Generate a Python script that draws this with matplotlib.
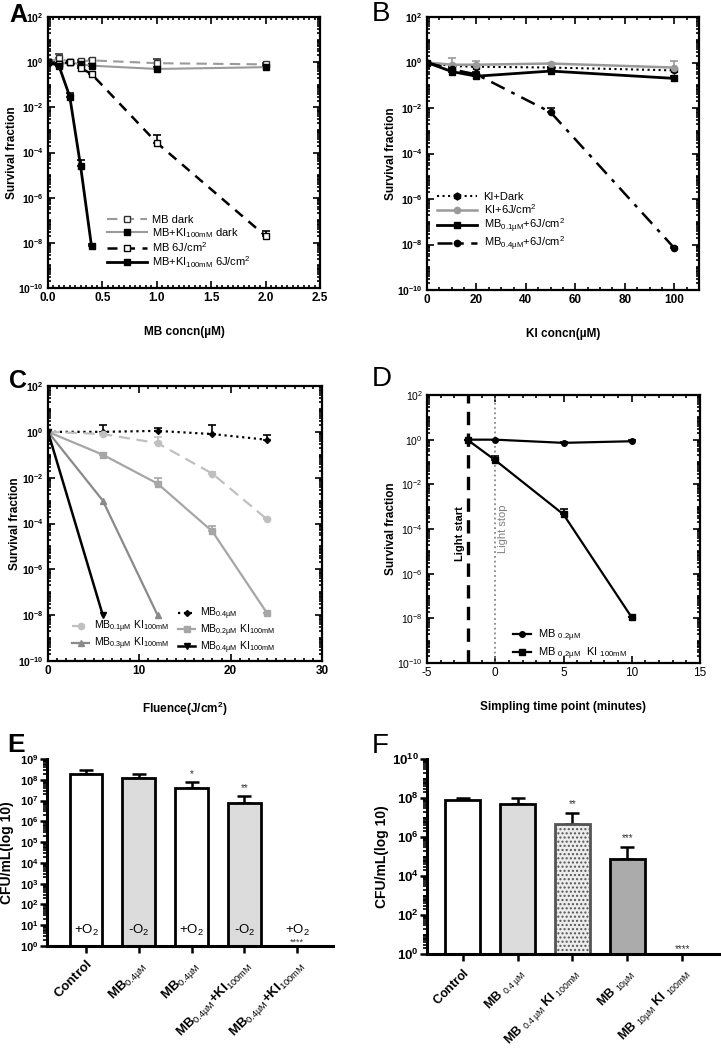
import numpy as np
import matplotlib
matplotlib.use("Agg")
import matplotlib.pyplot as plt
from matplotlib.ticker import LogLocator, MultipleLocator, NullFormatter
from matplotlib.lines import Line2D

plt.rcParams['font.family'] = ['Liberation Sans', 'DejaVu Sans']
plt.rcParams['mathtext.fontset'] = 'custom'
plt.rcParams['mathtext.rm'] = 'Liberation Sans'
plt.rcParams['mathtext.bf'] = 'Liberation Sans:bold'
plt.rcParams['mathtext.it'] = 'Liberation Sans:italic'
plt.rcParams['hatch.color'] = '#777777'

# ---------------- data ----------------
# Panel A
A_x = [0, 0.1, 0.2, 0.3, 0.4, 1.0, 2.0]
A_mb_dark = [1.0, 1.5, 1.0, 1.1, 1.2, 0.9, 0.8]
A_mb_dark_err = [0.1, 0.8, 0.1, 0.15, 0.2, 0.5, 0.15]
A_mbki_dark = [1.0, 0.8, 1.0, 0.8, 0.7, 0.5, 0.6]
A_mbki_dark_err = [0.1, 0.1, 0.1, 0.1, 0.1, 0.1, 0.1]
A_mb_light = [1.0, 0.8, 1.0, 0.55, 0.3, 2.7e-4, 2.0e-8]
A_mb_light_err = [0.1, 0.1, 0.1, 0.1, 0.05, 3.5e-4, 1.2e-8]
A_x_ki = [0, 0.1, 0.2, 0.3, 0.4]
A_mbki_light = [1.0, 0.7, 0.03, 2.4e-5, 7e-9]
A_mbki_light_err = [0.1, 0.1, 0.014, 2.2e-5, 2e-9]

# Panel B
B_x = [0, 10, 20, 50, 100]
B_ki_dark = [1.0, 0.7, 0.65, 0.6, 0.45]
B_ki_light = [1.0, 0.8, 0.8, 0.9, 0.6]
B_ki_light_err = [0.1, 0.8, 0.4, 0.1, 0.6]
B_mb01 = [1.0, 0.4, 0.25, 0.42, 0.2]
B_mb04 = [1.0, 0.5, 0.3, 6.5e-3, 7e-9]
B_mb04_err = [0.0, 0.1, 0.1, 4e-3, 1e-9]

# Panel C
C_x = [0, 6, 12, 18, 24]
C_mb04 = [1.0, 1.0, 1.1, 0.8, 0.45]
C_mb04_err = [0.0, 0.9, 0.35, 1.1, 0.25]
C_mb01ki = [1.0, 0.8, 0.32, 0.015, 1.5e-4]
C_mb01ki_err = [0.0, 0.1, 0.3, 0.002, 2e-5]
C_mb02ki = [1.0, 0.1, 5.5e-3, 4.5e-5, 1.2e-8]
C_mb02ki_err = [0.0, 0.01, 4e-3, 3e-5, 0.0]
C_x3 = [0, 6, 12]
C_mb03ki = [1.0, 1.0e-3, 1.0e-8]
C_x4 = [0, 6]
C_mb04ki = [1.0, 1.0e-8]

# Panel D
D_x = [-2, 0, 5, 10]
D_mb = [1.0, 1.0, 0.72, 0.85]
D_mb_err = [0.0, 0.0, 0.05, 0.15]
D_mbki = [0.95, 0.12, 4.5e-4, 1.1e-8]
D_mbki_err = [0.0, 0.06, 3.5e-4, 0.0]

# Panel E
E_labels = [r'$\mathbf{Control}$',
            r'$\mathbf{MB}_{\mathrm{0.4µM}}$',
            r'$\mathbf{MB}_{\mathrm{0.4µM}}$',
            r'$\mathbf{MB}_{\mathrm{0.4µM}}\mathbf{+KI}_{\mathrm{100mM}}$',
            r'$\mathbf{MB}_{\mathrm{0.4µM}}\mathbf{+KI}_{\mathrm{100mM}}$']
E_values = [1.8e8, 1.2e8, 4.0e7, 7.5e6, 0]
E_err = [1.3e8, 0.7e8, 3.6e7, 8.5e6, 0]
E_o2 = ['+O$_2$', '-O$_2$', '+O$_2$', '-O$_2$', '+O$_2$']
E_stars = ['', '', '*', '**', '****']
E_colors = ['white', '#dcdcdc', 'white', '#dcdcdc', 'white']

# Panel F
F_labels = [r'$\mathbf{Control}$',
            r'$\mathbf{MB}\ _{\mathrm{0.4\ µM}}$',
            r'$\mathbf{MB}\ _{\mathrm{0.4\ µM}}\ \mathbf{KI}\ _{\mathrm{100mM}}$',
            r'$\mathbf{MB}\ _{\mathrm{10µM}}$',
            r'$\mathbf{MB}\ _{\mathrm{10µM}}\ \mathbf{KI}\ _{\mathrm{100mM}}$']
F_values = [7.5e7, 5.0e7, 4.8e6, 7.5e4, 0]
F_err = [2.0e7, 5.0e7, 1.2e7, 2.3e5, 0]
F_stars = ['', '', '**', '***', '****']
F_colors = ['white', '#dcdcdc', '#ececec', '#ababab', 'white']

# ---------------- figure ----------------
W, H = 721, 1050
fig = plt.figure(figsize=(W / 100, H / 100), dpi=100)


def rect(l, t, r, b):
    return [l / W, 1 - b / H, (r - l) / W, (b - t) / H]


def style_surv(ax, xlim, xticks, xlabels, xminor, xlabel, bold=True, ylabx=-0.11):
    ax.set_yscale('log')
    ax.set_ylim(1e-10, 1e2)
    ax.set_xlim(*xlim)
    yt = [10.0 ** k for k in range(-10, 3, 2)]
    fmt = r'$\mathbf{10^{%d}}$' if bold else r'$\mathrm{10^{%d}}$'
    ax.set_yticks(yt, [fmt % k for k in range(-10, 3, 2)], fontsize=7.5)
    ax.yaxis.set_minor_locator(LogLocator(base=10, subs=np.arange(1, 10), numticks=200))
    ax.yaxis.set_minor_formatter(NullFormatter())
    ax.set_xticks(xticks, xlabels, fontsize=8.5,
                  fontweight='bold' if bold else 'normal')
    ax.xaxis.set_minor_locator(MultipleLocator(xminor))
    ax.tick_params(which='both', direction='in', top=True, right=True, width=1.2)
    ax.tick_params(which='major', length=5, pad=3)
    ax.tick_params(which='minor', length=2.5)
    for s in ax.spines.values():
        s.set_linewidth(1.6)
    ax.set_ylabel('Survival fraction', fontsize=8.5, fontweight='bold')
    ax.yaxis.set_label_coords(ylabx, 0.5)
    ax.set_xlabel(xlabel, fontsize=8.5, fontweight='bold', labelpad=16)


def ebar(ax, x, y, err, color, ls, lw, marker, ms, mfc, mec, label):
    err = np.asarray(err, dtype=float)
    ax.errorbar(x, y, yerr=[np.zeros_like(err), err], fmt='none', ecolor=mec,
                capsize=3, elinewidth=1.2, capthick=1.2)
    h, = ax.plot(x, y, color=color, ls=ls, lw=lw, marker=marker, ms=ms, mfc=mfc,
                 mec=mec, label=label)
    return h


# ---- Panel A ----
axA = fig.add_axes(rect(48, 17, 320, 288))
ebar(axA, A_x, A_mb_dark, A_mb_dark_err, '#9a9a9a', (0, (5, 3)), 1.5, 's', 5,
     'white', '#333333', 'MB dark')
ebar(axA, A_x, A_mbki_dark, A_mbki_dark_err, '#9a9a9a', '-', 1.5, 's', 5,
     'black', 'black', r'MB+KI$_{\mathrm{100mM}}$ dark')
ebar(axA, A_x, A_mb_light, A_mb_light_err, 'black', (0, (4, 3)), 1.8, 's', 5,
     'white', 'black', r'MB 6J/cm$^{\mathrm{2}}$')
ebar(axA, A_x_ki, A_mbki_light, A_mbki_light_err, 'black', '-', 2, 's', 5,
     'black', 'black', r'MB+KI$_{\mathrm{100mM}}$ 6J/cm$^{\mathrm{2}}$')
style_surv(axA, (0, 2.5), [0, 0.5, 1.0, 1.5, 2.0, 2.5],
           ['0.0', '0.5', '1.0', '1.5', '2.0', '2.5'], 0.05, 'MB concn(µM)')
axA.legend(loc='upper left', bbox_to_anchor=(0.2, 0.285), frameon=False, fontsize=8,
           handlelength=3.6, labelspacing=0.05, borderaxespad=0, handletextpad=0.5)

# ---- Panel B ----
axB = fig.add_axes(rect(427, 17, 699, 290))
ebar(axB, B_x, B_ki_dark, [0.05] * 5, 'black', ':', 1.5, 'h', 5, 'black', 'black',
     'KI+Dark')
ebar(axB, B_x, B_ki_light, B_ki_light_err, '#9a9a9a', '-', 1.8, 'o', 4.5,
     '#9a9a9a', '#9a9a9a', r'KI+6J/cm$^{\mathrm{2}}$')
ebar(axB, B_x, B_mb01, [0.05] * 5, 'black', '-', 2, 's', 5, 'black', 'black',
     r'MB$_{\mathrm{0.1µM}}$+6J/cm$^{\mathrm{2}}$')
ebar(axB, B_x, B_mb04, B_mb04_err, 'black', (0, (6, 3, 1.5, 3)), 1.8, 'o', 4.5,
     'black', 'black', r'MB$_{\mathrm{0.4µM}}$+6J/cm$^{\mathrm{2}}$')
style_surv(axB, (0, 110), [0, 20, 40, 60, 80, 100],
           ['0', '20', '40', '60', '80', '100'], 5, 'KI concn(µM)')
axB.legend(loc='upper left', bbox_to_anchor=(0.02, 0.375), frameon=False, fontsize=8,
           handlelength=3.6, labelspacing=0.02, borderaxespad=0, handletextpad=0.6)

# ---- Panel C ----
axC = fig.add_axes(rect(48, 386, 322, 661))
hC1 = ebar(axC, C_x, C_mb04, C_mb04_err, 'black', ':', 1.6, 'D', 3, 'black',
           'black', r'MB$_{\mathrm{0.4µM}}$')
hC2 = ebar(axC, C_x, C_mb01ki, C_mb01ki_err, '#c0c0c0', (0, (5, 3)), 1.6, 'o', 4.5,
           '#c0c0c0', '#c0c0c0', r'MB$_{\mathrm{0.1µM}}$ KI$_{\mathrm{100mM}}$')
hC3 = ebar(axC, C_x, C_mb02ki, C_mb02ki_err, '#a6a6a6', '-', 1.6, 's', 4.5,
           '#a6a6a6', '#a6a6a6', r'MB$_{\mathrm{0.2µM}}$ KI$_{\mathrm{100mM}}$')
hC4, = axC.plot(C_x3, C_mb03ki, color='#8a8a8a', ls='-', lw=1.6, marker='^', ms=4.5,
                label=r'MB$_{\mathrm{0.3µM}}$ KI$_{\mathrm{100mM}}$')
hC5, = axC.plot(C_x4, C_mb04ki, color='black', ls='-', lw=1.8, marker='v', ms=4.5,
                label=r'MB$_{\mathrm{0.4µM}}$ KI$_{\mathrm{100mM}}$')
style_surv(axC, (0, 30), [0, 10, 20, 30], ['0', '10', '20', '30'], 1,
           r'Fluence(J/cm$^{\mathbf{2}}$)', ylabx=-0.1)
blank = Line2D([], [], ls='none')
axC.legend([blank, hC2, hC4, hC1, hC3, hC5],
           ['', hC2.get_label(), hC4.get_label(), hC1.get_label(), hC3.get_label(),
            hC5.get_label()],
           ncol=2, loc='lower left', bbox_to_anchor=(0.07, 0.0), frameon=False,
           fontsize=7.5, handlelength=1.6, labelspacing=0.05, columnspacing=0.9,
           handletextpad=0.5, borderaxespad=0.1)

# ---- Panel D ----
axD = fig.add_axes(rect(427, 395, 700, 663))
axD.axvline(-2, color='black', ls=(0, (4, 2.5)), lw=2.4)
axD.axvline(0, color='#888888', ls=':', lw=1.3)
ebar(axD, D_x, D_mb, D_mb_err, 'black', '-', 1.6, 'o', 4, 'black', 'black',
     r'MB $_{\mathrm{0.2µM}}$')
ebar(axD, D_x, D_mbki, D_mbki_err, 'black', '-', 1.6, 's', 5, 'black', 'black',
     r'MB $_{\mathrm{0.2µM}}$  KI $_{\mathrm{100mM}}$')
style_surv(axD, (-5, 15), [-5, 0, 5, 10, 15], ['-5', '0', '5', '10', '15'], 1,
           'Simpling time point (minutes)', bold=False)
axD.text(-2.55, 6e-5, 'Light start', rotation=90, ha='center', va='center',
         fontsize=8, fontweight='bold', color='black')
axD.text(0.55, 1e-4, 'Light stop', rotation=90, ha='center', va='center',
         fontsize=8, color='#808080')
axD.legend(loc='upper left', bbox_to_anchor=(0.3, 0.15), frameon=False, fontsize=8,
           handlelength=1.6, labelspacing=0.15, borderaxespad=0, handletextpad=0.6)


# ---- bar panels ----
def style_bar(ax, ylim_top, ystep, labels, xlim, tickfs, ylabx, xfs):
    ax.set_yscale('log')
    ax.set_ylim(1, ylim_top)
    ax.set_xlim(*xlim)
    exps = list(range(0, int(round(np.log10(ylim_top))) + 1, ystep))
    ax.set_yticks([10.0 ** k for k in exps],
                  [r'$\mathbf{10^{%d}}$' % k for k in exps], fontsize=tickfs)
    ax.yaxis.set_minor_locator(LogLocator(base=10, subs=np.arange(1, 10), numticks=200))
    ax.yaxis.set_minor_formatter(NullFormatter())
    ax.set_xticks(range(len(labels)), labels, rotation=45, ha='right',
                  rotation_mode='anchor', fontsize=xfs)
    for s in ['top', 'right']:
        ax.spines[s].set_visible(False)
    ax.spines['left'].set_linewidth(2.2)
    ax.spines['bottom'].set_linewidth(2.2)
    ax.tick_params(axis='y', which='major', direction='out', length=5, width=1.8, pad=1)
    ax.tick_params(axis='y', which='minor', direction='out', length=3, width=1.2)
    ax.tick_params(axis='x', direction='out', length=5, width=1.8)
    ax.set_ylabel('CFU/mL(log 10)', fontsize=10, fontweight='bold')
    ax.yaxis.set_label_coords(ylabx, 0.5)


# ---- Panel E ----
axE = fig.add_axes(rect(47, 759, 333, 946))
for i, (v, e, c) in enumerate(zip(E_values, E_err, E_colors)):
    if v > 0:
        axE.bar(i, v - 1, bottom=1, width=0.62, color=c, edgecolor='black', lw=2,
                zorder=2)
        axE.errorbar(i, v, yerr=[[0], [e]], color='black', capsize=5, elinewidth=1.8,
                     capthick=1.8, zorder=1)
for i, (t, s) in enumerate(zip(E_o2, E_stars)):
    axE.text(i, 2.4, t, ha='center', va='bottom', fontsize=9.5, zorder=3)
    if s and E_values[i] > 0:
        axE.text(i, (E_values[i] + E_err[i]) * 1.4, s, ha='center', va='bottom',
                 fontsize=7, color='#333333')
    elif s:
        axE.text(i, 0.95, s, ha='center', va='bottom', fontsize=6.5, color='#333333')
style_bar(axE, 1e9, 1, E_labels, (-0.74, 4.68), 8, -0.115, 9.5)

# ---- Panel F ----
axF = fig.add_axes(rect(427, 759, 720, 954))
for i, (v, e, c) in enumerate(zip(F_values, F_err, F_colors)):
    if v > 0:
        ec = '#555555' if i == 2 else 'black'
        axF.bar(i, v - 1, bottom=1, width=0.63, color=c, edgecolor=ec, lw=2,
                hatch='....' if i == 2 else None, zorder=2)
        axF.errorbar(i, v, yerr=[[0], [e]], color='black', capsize=5, elinewidth=1.8,
                     capthick=1.8, zorder=1)
for i, s in enumerate(F_stars):
    if s and F_values[i] > 0:
        axF.text(i, (F_values[i] + F_err[i]) * 1.6, s, ha='center', va='bottom',
                 fontsize=7, color='#333333')
    elif s:
        axF.text(i, 1.05, s, ha='center', va='bottom', fontsize=7, color='#333333')
style_bar(axF, 1e10, 2, F_labels, (-0.65, 4.69), 9.5, -0.13, 9)

# ---- panel letters ----
fig.text(9 / W, 1 - 22 / H, 'A', fontsize=18, fontweight='bold')
fig.text(372 / W, 1 - 21 / H, 'B', fontsize=20)
fig.text(9 / W, 1 - 388 / H, 'C', fontsize=18, fontweight='bold')
fig.text(372 / W, 1 - 386 / H, 'D', fontsize=20)
fig.text(7 / W, 1 - 752 / H, 'E', fontsize=19, fontweight='bold')
fig.text(372 / W, 1 - 753 / H, 'F', fontsize=20)

fig.savefig('out.png', dpi=100)
